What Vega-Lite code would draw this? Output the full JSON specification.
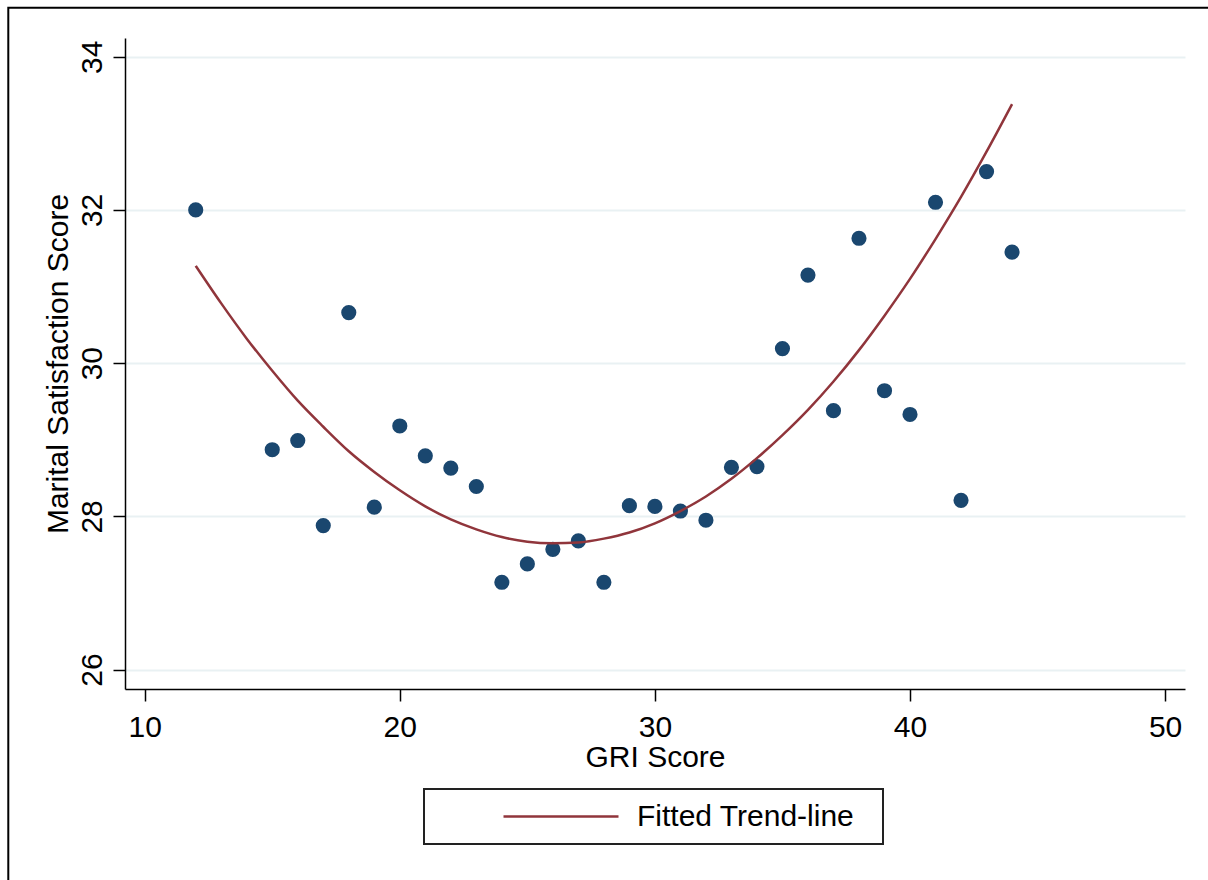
{
  "$schema": "https://vega.github.io/schema/vega-lite/v6.json",
  "width": 1060,
  "height": 651,
  "autosize": {"type": "none"},
  "padding": {"left": 125, "top": 38, "right": 23, "bottom": 191},
  "background": "white",
  "config": {
    "view": {"stroke": null},
    "font": "Liberation Sans, Arial, sans-serif",
    "axis": {
      "domainColor": "black",
      "domainWidth": 1.5,
      "tickColor": "black",
      "tickWidth": 1.5,
      "tickSize": 12,
      "labelColor": "black",
      "titleColor": "black",
      "labelFontSize": 30,
      "titleFontSize": 30,
      "titleFontWeight": "normal",
      "labelFlush": false,
      "labelOverlap": false
    },
    "legend": {
      "strokeColor": "#222222",
      "strokeWidth": 2
    }
  },
  "layer": [
    {
      "data": {"values": [{"frame": "outer"}]},
      "mark": {"type": "rect", "fill": null, "stroke": "black", "strokeWidth": 2, "clip": false},
      "encoding": {
        "x": {"datum": 4.653, "type": "quantitative"},
        "x2": {"datum": 52.5},
        "y": {"datum": 34.64, "type": "quantitative"},
        "y2": {"datum": 22.5}
      }
    },
    {
      "data": {
        "values": [
          {"gri": 12, "mss": 32.00}, {"gri": 15, "mss": 28.87}, {"gri": 16, "mss": 28.99},
          {"gri": 17, "mss": 27.88}, {"gri": 18, "mss": 30.66}, {"gri": 19, "mss": 28.12},
          {"gri": 20, "mss": 29.18}, {"gri": 21, "mss": 28.79}, {"gri": 22, "mss": 28.63},
          {"gri": 23, "mss": 28.39}, {"gri": 24, "mss": 27.14}, {"gri": 25, "mss": 27.38},
          {"gri": 26, "mss": 27.57}, {"gri": 27, "mss": 27.68}, {"gri": 28, "mss": 27.14},
          {"gri": 29, "mss": 28.14}, {"gri": 30, "mss": 28.13}, {"gri": 31, "mss": 28.07},
          {"gri": 32, "mss": 27.95}, {"gri": 33, "mss": 28.64}, {"gri": 34, "mss": 28.65},
          {"gri": 35, "mss": 30.19}, {"gri": 36, "mss": 31.15}, {"gri": 37, "mss": 29.38},
          {"gri": 38, "mss": 31.63}, {"gri": 39, "mss": 29.64}, {"gri": 40, "mss": 29.33},
          {"gri": 41, "mss": 32.10}, {"gri": 42, "mss": 28.21}, {"gri": 43, "mss": 32.50},
          {"gri": 44, "mss": 31.45}
        ]
      },
      "mark": {"type": "point", "filled": true, "shape": "circle", "size": 230, "color": "#1a476f", "opacity": 1},
      "encoding": {
        "x": {
          "field": "gri", "type": "quantitative",
          "scale": {"domain": [9.228, 50.78], "nice": false, "zero": false},
          "axis": {
            "title": "GRI Score",
            "values": [10, 20, 30, 40, 50],
            "format": "d",
            "grid": false,
            "labelFontSize": 30,
            "labelPadding": 11,
            "titleFontSize": 30,
            "titleBaseline": "alphabetic",
            "titleY": 77,
            "titleX": 530
          }
        },
        "y": {
          "field": "mss", "type": "quantitative",
          "scale": {"domain": [25.747, 34.244], "nice": false, "zero": false},
          "axis": {
            "title": "Marital Satisfaction Score",
            "values": [26, 28, 30, 32, 34],
            "format": "d",
            "grid": true,
            "gridColor": "#e9f1f3",
            "gridWidth": 2,
            "labelFontSize": 30,
            "labelAngle": 270,
            "labelAlign": "center",
            "labelBaseline": "alphabetic",
            "labelPadding": 12,
            "titleFontSize": 30,
            "titleAngle": 270,
            "titleBaseline": "alphabetic",
            "titleAlign": "center",
            "titleX": -58,
            "titleY": 325.5
          }
        }
      }
    },
    {
      "data": {
        "values": [
          {"gri": 12, "fit": 31.27, "series": "Fitted Trend-line"},
          {"gri": 13, "fit": 30.78, "series": "Fitted Trend-line"},
          {"gri": 14, "fit": 30.32, "series": "Fitted Trend-line"},
          {"gri": 15, "fit": 29.90, "series": "Fitted Trend-line"},
          {"gri": 16, "fit": 29.51, "series": "Fitted Trend-line"},
          {"gri": 17, "fit": 29.17, "series": "Fitted Trend-line"},
          {"gri": 18, "fit": 28.85, "series": "Fitted Trend-line"},
          {"gri": 19, "fit": 28.58, "series": "Fitted Trend-line"},
          {"gri": 20, "fit": 28.34, "series": "Fitted Trend-line"},
          {"gri": 21, "fit": 28.13, "series": "Fitted Trend-line"},
          {"gri": 22, "fit": 27.96, "series": "Fitted Trend-line"},
          {"gri": 23, "fit": 27.83, "series": "Fitted Trend-line"},
          {"gri": 24, "fit": 27.73, "series": "Fitted Trend-line"},
          {"gri": 25, "fit": 27.67, "series": "Fitted Trend-line"},
          {"gri": 26, "fit": 27.65, "series": "Fitted Trend-line"},
          {"gri": 27, "fit": 27.66, "series": "Fitted Trend-line"},
          {"gri": 28, "fit": 27.71, "series": "Fitted Trend-line"},
          {"gri": 29, "fit": 27.79, "series": "Fitted Trend-line"},
          {"gri": 30, "fit": 27.91, "series": "Fitted Trend-line"},
          {"gri": 31, "fit": 28.07, "series": "Fitted Trend-line"},
          {"gri": 32, "fit": 28.26, "series": "Fitted Trend-line"},
          {"gri": 33, "fit": 28.49, "series": "Fitted Trend-line"},
          {"gri": 34, "fit": 28.76, "series": "Fitted Trend-line"},
          {"gri": 35, "fit": 29.06, "series": "Fitted Trend-line"},
          {"gri": 36, "fit": 29.39, "series": "Fitted Trend-line"},
          {"gri": 37, "fit": 29.76, "series": "Fitted Trend-line"},
          {"gri": 38, "fit": 30.17, "series": "Fitted Trend-line"},
          {"gri": 39, "fit": 30.62, "series": "Fitted Trend-line"},
          {"gri": 40, "fit": 31.10, "series": "Fitted Trend-line"},
          {"gri": 41, "fit": 31.62, "series": "Fitted Trend-line"},
          {"gri": 42, "fit": 32.17, "series": "Fitted Trend-line"},
          {"gri": 43, "fit": 32.76, "series": "Fitted Trend-line"},
          {"gri": 44, "fit": 33.38, "series": "Fitted Trend-line"}
        ]
      },
      "mark": {"type": "line", "strokeWidth": 2.5, "interpolate": "monotone"},
      "encoding": {
        "x": {"field": "gri", "type": "quantitative"},
        "y": {"field": "fit", "type": "quantitative"},
        "color": {
          "field": "series", "type": "nominal",
          "scale": {"range": ["#90353b"]},
          "legend": {
            "title": null,
            "orient": "none",
            "legendX": 299,
            "legendY": 751,
            "padding": 12,
            "symbolType": "stroke",
            "symbolSize": 13225,
            "symbolStrokeWidth": 2.5,
            "symbolOffset": 66,
            "clipHeight": 31,
            "labelOffset": 17,
            "labelFontSize": 30,
            "labelColor": "black",
            "labelLimit": 400,
            "labelExpr": "datum.label + '\u00a0\u00a0\u200b'"
          }
        }
      }
    }
  ]
}
